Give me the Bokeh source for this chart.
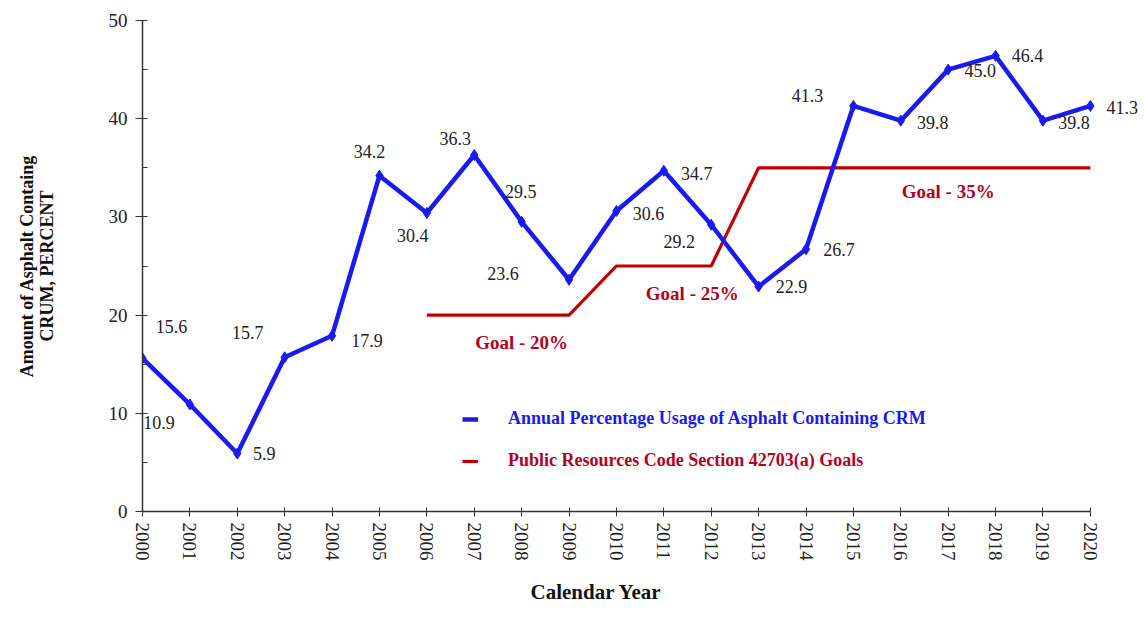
from bokeh.plotting import figure
from bokeh.models import (Range1d, ColumnDataSource, LabelSet, Label, Legend,
                          LegendItem, FixedTicker, Title)
from bokeh.embed import file_html
from bokeh.resources import INLINE

# ---------------- data ----------------
years = list(range(2000, 2021))
usage = [15.6, 10.9, 5.9, 15.7, 17.9, 34.2, 30.4, 36.3, 29.5, 23.6, 30.6,
         34.7, 29.2, 22.9, 26.7, 41.3, 39.8, 45.0, 46.4, 39.8, 41.3]
goal_years = [2006, 2009, 2010, 2012, 2013, 2020]
goal_values = [20, 20, 25, 25, 35, 35]
goal_texts = ["Goal - 20%", "Goal - 25%", "Goal - 35%"]
goal_anchor_years = [2008, 2011.6, 2017]
goal_anchor_values = [20, 25, 35]
y_ticks = [0, 10, 20, 30, 40, 50]

# label offsets (px): dx right, dy up
lab_dx = [29, -31, 27, -37, 35, -10, -14, -19, -1, -66, 32, 33, -32, 33, 33, -46, 32, 32, 32, 31, 32]
lab_dy = [32, -18, 0, 25, -5, 24, -23, 17, 30, 6, -2, -3, -17, 0, 0, 10, -2, -1, 0, -2, -2]

BLUE = "#1a1af0"
RED = "#c00000"
RED_TXT = "#b5001e"
FONT = "Liberation Serif"

p = figure(width=1144, height=618, output_backend="svg", toolbar_location=None,
           x_range=Range1d(2000, 2021.1), y_range=Range1d(0, 50),
           min_border_left=142, min_border_top=20, min_border_bottom=107,
           min_border_right=2)
p.outline_line_color = None
p.xgrid.visible = False
p.ygrid.visible = False
p.background_fill_color = "white"

# goal line
red_line = p.line(goal_years, goal_values, line_color=RED, line_width=3.2)
# usage line
blue_line = p.line(years, usage, line_color=BLUE, line_width=4.5)
p.scatter(years, usage, marker="diamond", size=11, color=BLUE)

src = ColumnDataSource(dict(x=years, y=usage, t=[f"{v:.1f}" for v in usage],
                            dx=lab_dx, dy=lab_dy))
p.add_layout(LabelSet(x="x", y="y", text="t", source=src, x_offset="dx", y_offset="dy",
                      text_align="center", text_baseline="middle",
                      text_font=FONT, text_font_size="18px", text_color="#222222"))

for gx, gy, gt in zip(goal_anchor_years, goal_anchor_values, goal_texts):
    off = -24 if gy == 35 else -27
    p.add_layout(Label(x=gx, y=gy, y_offset=off, text=gt, text_align="center",
                       text_baseline="middle", text_font=FONT, text_font_size="19px",
                       text_font_style="bold", text_color=RED_TXT))

# legends
def make_legend(label, rend, color, loc):
    lg = Legend(items=[LegendItem(label=label, renderers=[rend])], location=loc,
                orientation="vertical", padding=0, margin=0, spacing=0,
                glyph_width=16, glyph_height=20, label_standoff=30,
                border_line_alpha=0, background_fill_alpha=0,
                label_text_font=FONT, label_text_font_size="18px",
                label_text_font_style="bold", label_text_color=color)
    p.add_layout(lg)

make_legend("Annual Percentage Usage of Asphalt Containing CRM", blue_line, BLUE, (320, 82))
make_legend("Public Resources Code Section 42703(a) Goals", red_line, RED_TXT, (320, 40))

# axes
p.xaxis.ticker = FixedTicker(ticks=years)
p.xaxis.bounds = (2000, 2020)
p.xaxis.major_label_orientation = "vertical"
p.xaxis.major_tick_out = 5
p.xaxis.major_tick_in = 4
p.xaxis.minor_tick_line_color = None
p.xaxis.major_label_standoff = 6

# x axis title, placed below the axis
p.add_layout(Title(text="Calendar Year", align="left", offset=388, standoff=29,
                   padding=0, text_line_height=1.0,
                   text_font=FONT, text_font_size="21px", text_font_style="bold",
                   text_color="#111111"), "below")

p.yaxis.ticker = FixedTicker(ticks=y_ticks, minor_ticks=[5, 15, 25, 35, 45])
p.yaxis.major_tick_out = 7
p.yaxis.major_tick_in = 5
p.yaxis.minor_tick_out = 0
p.yaxis.minor_tick_in = 5
p.yaxis.major_label_standoff = 8
p.yaxis.axis_label = "Amount of Asphalt Containg\nCRUM, PERCENT"
p.yaxis.axis_label_standoff = 49
p.yaxis.axis_label_text_line_height = 1.0

for ax in (p.xaxis, p.yaxis):
    ax.axis_line_color = "#333333"
    ax.axis_line_width = 1.5
    ax.major_tick_line_color = "#333333"
    ax.minor_tick_line_color = "#333333"
    ax.major_label_text_font = FONT
    ax.major_label_text_font_size = "19px"
    ax.major_label_text_color = "#222222"
    ax.axis_label_text_font = FONT
    ax.axis_label_text_font_size = "18px"
    ax.axis_label_text_font_style = "bold"
    ax.axis_label_text_color = "#111111"
p.xaxis.minor_tick_line_color = None

open("out.html", "w").write(file_html(p, INLINE))
